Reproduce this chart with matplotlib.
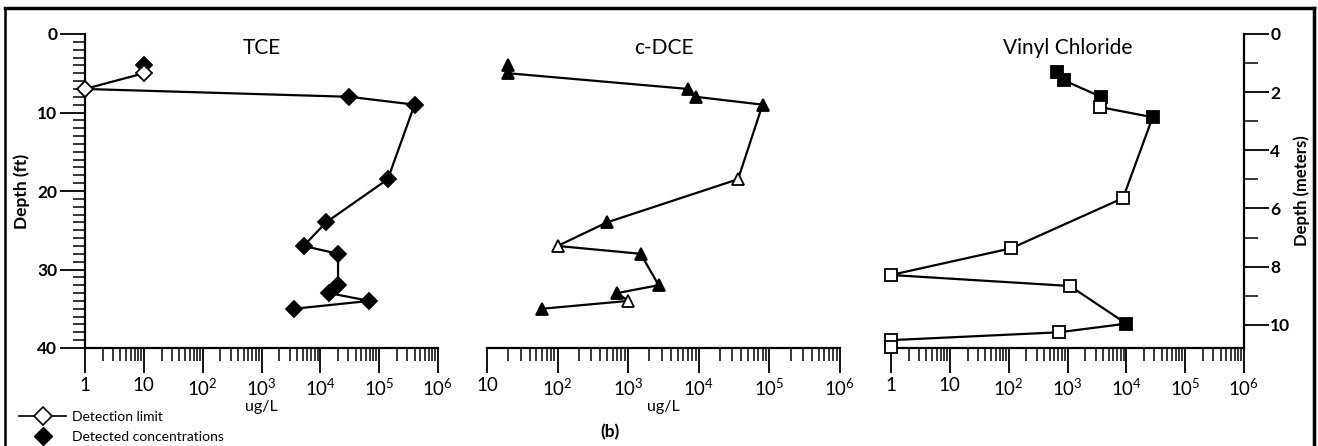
import numpy as np
import matplotlib
matplotlib.use("Agg")
import matplotlib.pyplot as plt
from matplotlib.lines import Line2D
from matplotlib.ticker import FixedLocator, LogLocator, NullFormatter, FixedFormatter

plt.rcParams['font.family'] = ['Lato', 'DejaVu Sans']
plt.rcParams['mathtext.fontset'] = 'custom'
plt.rcParams['mathtext.rm'] = 'Lato'
plt.rcParams['mathtext.it'] = 'Lato:italic'
plt.rcParams['mathtext.bf'] = 'Lato:bold'

# ---------------- data ----------------
tce_depth = [4, 5, 7, 8, 9, 18.5, 24, 27, 28, 32, 33, 34, 35]
tce_conc = [10, 10, 1, 3.1e4, 4.0e5, 1.4e5, 1.25e4, 5.2e3, 2.0e4, 2.0e4, 1.4e4, 6.8e4, 3.6e3]
tce_detected = [True, False, False, True, True, True, True, True, True, True, True, True, True]

dce_depth = [4, 5, 7, 8, 9, 18.5, 24, 27, 28, 32, 33, 34, 35]
dce_conc = [20, 20, 7.0e3, 9.0e3, 8.0e4, 3.6e4, 500, 100, 1.5e3, 2.7e3, 700, 1000, 60]
dce_detected = [True, True, True, True, True, False, True, False, True, True, True, False, True]

vc_depth = [4.8, 5.9, 8.0, 9.3, 10.6, 20.9, 27.3, 30.7, 32.1, 36.9, 38.0, 39.0, 39.9]
vc_conc = [660, 870, 3.7e3, 3.5e3, 2.8e4, 8.8e3, 110, 1.0, 1.1e3, 1.0e4, 710, 1.0, 1.0]
vc_detected = [True, True, True, False, True, False, False, False, False, True, False, False, False]

titles = ["TCE", "c-DCE", "Vinyl Chloride"]
tce_ticklabels = ["1", "10", "$10^2$", "$10^3$", "$10^4$", "$10^5$", "$10^6$"]
dce_ticklabels = ["10", "$10^2$", "$10^3$", "$10^4$", "$10^5$", "$10^6$"]
vc_ticklabels = ["1", "10", "$10^2$", "$10^3$", "$10^4$", "$10^5$", "$10^6$"]
depth_ft_ticks = [0, 10, 20, 30, 40]
depth_m_ticks = [0, 2, 4, 6, 8, 10]

# ---------------- figure ----------------
W, H = 1318, 446
fig = plt.figure(figsize=(W / 100, H / 100), dpi=100)


def px_axes(l, r, t, b):
    return fig.add_axes([l / W, 1 - b / H, (r - l) / W, (b - t) / H])


ax1 = px_axes(85, 438, 34, 348)
ax2 = px_axes(487, 840, 34, 348)
ax3 = px_axes(891, 1244, 34, 348)

panels = [
    (ax1, tce_depth, tce_conc, tce_detected, 'D', 8.5, (1, 1e6), tce_ticklabels),
    (ax2, dce_depth, dce_conc, dce_detected, '^', 9, (10, 1e6), dce_ticklabels),
    (ax3, vc_depth, vc_conc, vc_detected, 's', 8, (1, 1e6), vc_ticklabels),
]

for i, (ax, d, c, det, mk, ms, xl, tl) in enumerate(panels):
    d = np.array(d)
    c = np.array(c)
    det = np.array(det)
    ax.plot(c, d, color='black', lw=1.6, zorder=2, clip_on=False)
    ax.plot(c[det], d[det], ls='none', marker=mk, ms=ms, mfc='black', mec='black',
            mew=1.3, zorder=3, clip_on=False)
    ax.plot(c[~det], d[~det], ls='none', marker=mk, ms=ms, mfc='white', mec='black',
            mew=1.3, zorder=3, clip_on=False)
    ax.set_xscale('log')
    ax.set_xlim(*xl)
    ax.set_ylim(40, 0)
    ax.patch.set_alpha(0)
    for s in ['top', 'right', 'left']:
        ax.spines[s].set_visible(False)
    ax.spines['bottom'].set_linewidth(1.6)
    majors = [10 ** k for k in range(int(np.log10(xl[0])), 7)]
    ax.xaxis.set_major_locator(FixedLocator(majors))
    ax.xaxis.set_major_formatter(FixedFormatter(tl))
    ax.xaxis.set_minor_locator(LogLocator(base=10, subs=np.arange(2, 10), numticks=20))
    ax.xaxis.set_minor_formatter(NullFormatter())
    ax.tick_params(axis='x', which='major', direction='out', length=18, width=1.3,
                   labelsize=13.5, pad=3)
    ax.tick_params(axis='x', which='minor', direction='out', length=9, width=1.1)
    ax.set_yticks([])
    ax.text(0.5, 0.955, titles[i], transform=ax.transAxes, ha='center', va='center',
            fontsize=15)

# left depth axis (ft)
ax1.spines['left'].set_visible(True)
ax1.spines['left'].set_linewidth(1.6)
ax1.set_yticks(depth_ft_ticks)
ax1.set_yticklabels([str(v) for v in depth_ft_ticks], fontweight='bold')
ax1.yaxis.set_minor_locator(FixedLocator(np.arange(0, 41, 1)))
ax1.tick_params(axis='y', which='major', direction='out', length=18, width=1.3,
                labelsize=12.5, pad=2)
ax1.tick_params(axis='y', which='minor', direction='out', length=9, width=1.1)
ax1.set_ylabel("Depth (ft)", fontsize=12.5, fontweight='bold', labelpad=5)

# right depth axis (meters)
ax3r = ax3.twinx()
ax3r.set_ylim(10.8, 0)
for s in ['top', 'left', 'bottom']:
    ax3r.spines[s].set_visible(False)
ax3r.spines['right'].set_linewidth(1.6)
ax3r.set_yticks(depth_m_ticks)
ax3r.set_yticklabels([str(v) for v in depth_m_ticks], fontweight='bold')
ax3r.yaxis.set_minor_locator(FixedLocator([1, 3, 5, 7, 9]))
ax3r.tick_params(axis='y', which='major', direction='out', length=18, width=1.3,
                 labelsize=12.5, pad=1)
ax3r.tick_params(axis='y', which='minor', direction='out', length=10, width=1.1)
ax3r.set_ylabel("Depth (meters)", fontsize=12, fontweight='bold', labelpad=2)

# x labels
ax1.set_xlabel("ug/L", fontsize=11.5, labelpad=1)
ax2.set_xlabel("ug/L", fontsize=11.5, labelpad=1)
fig.text(610 / W, 1 - 432 / H, "(b)", ha='center', va='center', fontsize=12.5,
         fontweight='bold')

# legend
h1 = Line2D([], [], color='black', lw=1.2, marker='D', ms=9, mfc='white', mec='black', mew=1.2)
h2 = Line2D([], [], ls='none', marker='D', ms=9, mfc='black', mec='black')
fig.legend([h1, h2], ["Detection limit", "Detected concentrations"],
           loc='upper left', bbox_to_anchor=(19 / W, 1 - 411 / H), frameon=False,
           fontsize=10, handlelength=3.4, handletextpad=0.4, labelspacing=0.55,
           borderpad=0, borderaxespad=0)

# frame
fig.add_artist(Line2D([5 / W, 1314 / W], [1 - 8 / H, 1 - 8 / H], color='black', lw=2.5,
                      transform=fig.transFigure))
fig.add_artist(Line2D([5 / W, 5 / W], [1 - 8 / H, 0], color='black', lw=1.8,
                      transform=fig.transFigure))
fig.add_artist(Line2D([1314 / W, 1314 / W], [1 - 8 / H, 0], color='black', lw=2.5,
                      transform=fig.transFigure))

fig.savefig("out.png", dpi=100)
